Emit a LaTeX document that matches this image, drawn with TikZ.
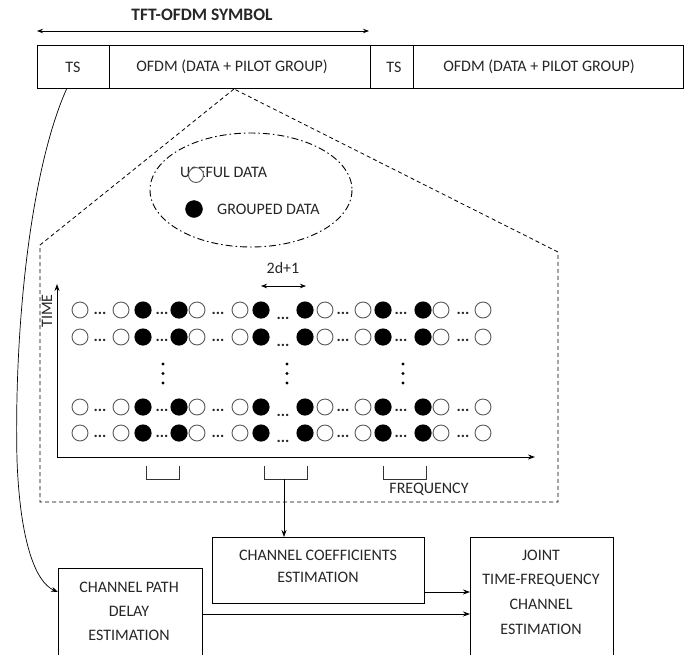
\documentclass[tikz,border=0pt]{standalone}
\usepackage{fontspec}
\setmainfont{Carlito}
\usetikzlibrary{arrows.meta}
\newcommand\mysz{\fontsize{16}{18}\selectfont}
\begin{document}
\begin{tikzpicture}[x=1pt,y=-1pt,
  lbl/.style={font=\mysz, text=black!85, inner sep=0pt},
  seg/.style={draw, line width=0.8pt, minimum height=43pt, inner sep=0pt, outer sep=0pt, anchor=north west},
  boxx/.style={draw, line width=0.8pt, inner sep=0pt, outer sep=0pt, anchor=north west},
  arr/.style={-{Stealth[length=7pt,width=5pt]}, line width=0.7pt},
  dbl/.style={{Stealth[length=6pt,width=4.5pt]}-{Stealth[length=6pt,width=4.5pt]}, line width=0.8pt},
  ocirc/.style={draw=black!65, line width=0.9pt},
  fcirc/.style={fill=black},
  ell/.style={font=\mysz\bfseries, text=black!85, inner sep=0pt},
  brk/.style={line width=0.8pt, draw=black!80},
  pent/.style={line width=0.8pt, dash pattern=on 4pt off 3pt},
  legend/.style={line width=0.9pt, dash pattern=on 7pt off 3pt on 1.5pt off 3pt}
]
\useasboundingbox (0,0) rectangle (685,654);
\clip (0,0) rectangle (685,654);

% title and span arrow
\node[font=\fontsize{17.5}{20}\selectfont\bfseries, text=black!85, inner sep=0pt] (title) at (202,15) {TFT-OFDM SYMBOL};
\coordinate (spanL) at (37,31);
\coordinate (spanR) at (369,31);
\draw[dbl] (spanL) -- (spanR);

% frame bar
\node[seg, minimum width=72pt]  (ts1)   at (37,45)  {};
\node[seg, minimum width=261pt] (ofdm1) at (109,45) {};
\node[seg, minimum width=43pt]  (ts2)   at (370,45) {};
\node[seg, minimum width=270pt] (ofdm2) at (413,45) {};
\node[lbl] (ts1t)   at (73,67)  {TS};
\node[lbl] (ofdm1t) at (232,67) {OFDM (DATA + PILOT GROUP)};
\node[lbl] (ts2t)   at (394,67) {TS};
\node[lbl] (ofdm2t) at (539,67) {OFDM (DATA + PILOT GROUP)};

% zoom-out pentagon
\coordinate (apex) at (234,89);
\draw[pent] (apex) -- (40,245) -- (40,502) -- (558,502) -- (558,252) -- cycle;

% legend ellipse
\draw[legend] (251,190) ellipse [x radius=101, y radius=57];
\node[lbl, anchor=west] (useful) at (180,172) {USEFUL DATA};
\draw[ocirc, fill=white] (196,175) circle (7.5);
\draw[fcirc] (194,209) circle (8.5);
\node[lbl, anchor=west] (grouped) at (217,209) {GROUPED DATA};

% 2d+1
\node[lbl] (twod) at (283,268) {2d+1};
\coordinate (dL) at (261,286);
\coordinate (dR) at (306,286);
\draw[dbl, line width=0.6pt] (dL) -- (dR);

% axes
\coordinate (orig) at (57,457);
\coordinate (ttop) at (57,284);
\coordinate (fend) at (535,457);
\draw[arr, line width=0.9pt] (orig) -- (ttop);
\draw[arr, line width=0.9pt] (orig) -- (fend);
\node[lbl, rotate=90] (time) at (47,311) {TIME};
\node[lbl] (freq) at (429,489) {FREQUENCY};

% grid rows
\foreach \yy in {310,337,407,433}{
  \foreach \xx in {80,121,197,240,325,363,441,483}
    \draw[ocirc] (\xx,\yy) circle (8);
  \foreach \xx in {143,179,261,305,383,423}
    \fill (\xx,\yy) circle (8.6);
  \foreach \xx in {100,162,218,343,401,463}
    \node[ell] (e\xx-\yy) at (\xx,\yy+3) {...};
  \node[ell] (c283-\yy) at (283,\yy+8) {...};
}
% vertical ellipses
\foreach \xx in {163,287,403}
  \foreach \yy in {364,373.5,383}
    \fill (\xx,\yy) circle (1.6);

% brackets
\draw[brk] (146,466) -- (146,479) -- (179,479) -- (179,466);
\draw[brk] (264,466) -- (264,479) -- (307,479) -- (307,466);
\draw[brk] (383,466) -- (383,479) -- (426,479) -- (426,466);
\coordinate (b2) at (284,479);

% estimation boxes
\node[boxx, minimum width=212pt, minimum height=66pt]  (cc)    at (212,537) {};
\node[boxx, minimum width=144pt, minimum height=120pt] (cp)    at (58,568)  {};
\node[boxx, minimum width=143pt, minimum height=150pt] (joint) at (470,537) {};
\node[lbl, align=center, font=\fontsize{16}{22}\selectfont] (cct) at (318,566) {CHANNEL COEFFICIENTS\\ESTIMATION};
\node[lbl, align=center, font=\fontsize{16}{24}\selectfont] (cpt) at (129,611) {CHANNEL PATH\\DELAY\\ESTIMATION};
\node[lbl, align=center, font=\fontsize{16}{24.7}\selectfont] (jt) at (541,592) {JOINT\\TIME-FREQUENCY\\CHANNEL\\ESTIMATION};

% connectors
\draw[arr] (b2) -- (b2 |- cc.north);
\draw[arr] ([yshift=11pt]cc.south east) -- ([yshift=11pt]cc.south east -| joint.west);
\draw[arr] ([yshift=-46pt]cp.north east) -- ([yshift=-46pt]cp.north east -| joint.west);
\draw[arr, line width=0.7pt] ([xshift=-6pt]ts1.south) .. controls (30,170) and (14,330) .. (17,460)
   .. controls (20,540) and (35,582) .. ([yshift=-24pt]cp.north west);
\end{tikzpicture}
\end{document}
